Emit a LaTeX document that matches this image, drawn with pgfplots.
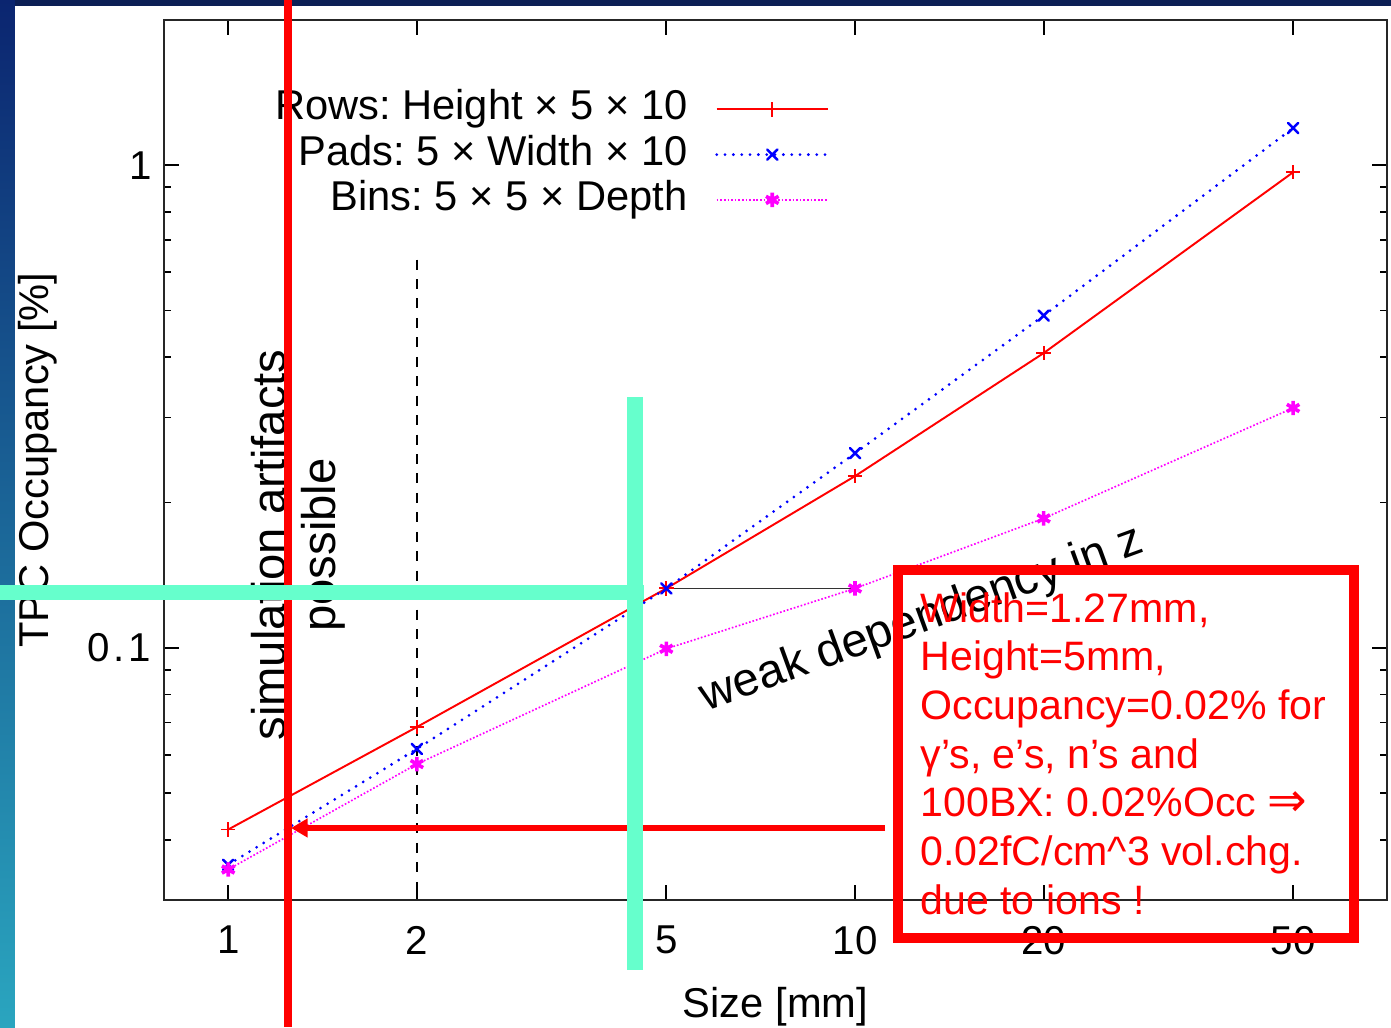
\documentclass[border=0pt]{standalone}
\usepackage{pgfplots}
\pgfplotsset{compat=1.18}
\usepackage{fontspec}
\setmainfont{Liberation Sans}
\newfontfamily\djv{DejaVu Sans}
\usetikzlibrary{arrows.meta}
\frenchspacing
\definecolor{navytop}{HTML}{0C1F55}
\definecolor{stripA}{HTML}{0B2570}
\definecolor{stripB}{HTML}{0836A0}
\definecolor{stripC}{HTML}{2AA5BF}
\definecolor{aqua}{RGB}{102,255,204}
\definecolor{mag}{RGB}{255,0,255}
\definecolor{pureblue}{RGB}{0,0,255}
\definecolor{purered}{RGB}{255,0,0}
\begin{document}
\begin{tikzpicture}
\begin{scope}[x=0.36pt,y=-0.36pt,shift={(-59.04pt,324pt)}]
  \fill[navytop] (0,0) rectangle (1391,1027);
  \shade[top color=stripA, middle color=stripB, bottom color=stripC] (0,0) rectangle (15,1027);
  \fill[white] (15,6) rectangle (1391,1027);
\end{scope}
\begin{axis}[
  at={(0,0)}, anchor=south west, scale only axis,
  width=440.28pt, height=316.8pt,
  xmode=log, ymode=log,
  xmin=0.79, xmax=70.6, ymin=0.03, ymax=2,
  xtick={1,2,5,10,20,50}, xticklabels={1,2,5,10,20,50}, minor xtick={},
  ytick={0.1,1}, yticklabels={0\kern1.5pt.\kern1.5pt1,1},
  minor ytick={0.04,0.05,0.06,0.07,0.08,0.09,0.2,0.3,0.4,0.5,0.6,0.7,0.8,0.9},
  major tick length=5.4pt, minor tick length=2.6pt,
  tick style={black, line width=0.7pt},
  axis line style={line width=0.75pt, black!85},
  font=\fontsize{15}{18}\selectfont,
  ticklabel style={font=\fontsize{14.5}{17}\selectfont},
  xticklabel style={yshift=-5.8pt}, yticklabel style={xshift=-1pt},
  /pgf/number format/assume math mode=true,
  xlabel={Size [mm]}, ylabel={TPC Occupancy [\%]},
  xlabel style={at={(axis description cs:0.5,-0.121)}, anchor=center},
  ylabel style={at={(axis description cs:-0.103,0.5)}, anchor=center},
  legend plot pos=right, legend cell align=right,
  legend style={at={(axis description cs:0.5445,0.922)}, anchor=north east,
    draw=none, fill=none, inner sep=0pt, row sep=1.8pt, column sep=10pt,
    nodes={inner sep=0pt, text height=11pt, text depth=3.5pt}},
  legend image code/.code={\draw[mark repeat=2,mark phase=2,#1] plot coordinates {(0pt,0pt)(20pt,0pt)(40pt,0pt)};},
]
\draw[black, line width=0.55pt, dash pattern=on 3.6pt off 3.4pt] (axis cs:2,0.6375) -- (axis cs:2,0.03);
\draw[black!80, line width=0.6pt] (axis cs:5,0.1327) -- (axis cs:10,0.1327);
\addplot[purered, line width=0.7pt, mark=+, mark size=2.6pt, mark options={solid}]
  coordinates {(1,0.0420)(2,0.0685)(5,0.1327)(10,0.2268)(20,0.408)(50,0.967)};
\addlegendentry{Rows: Height × 5 × 10}
\addplot[pureblue, line width=1.1pt, line cap=round, dash pattern=on 0pt off 3pt, mark=x, mark size=2.6pt, mark options={solid, line width=0.9pt}]
  coordinates {(1,0.0355)(2,0.0617)(5,0.1327)(10,0.253)(20,0.488)(50,1.194)};
\addlegendentry{Pads: 5 × Width × 10}
\addplot[mag, line width=0.6pt, dash pattern=on 0.6pt off 0.7pt, mark=asterisk, mark size=2.6pt, mark options={solid, line width=1.3pt}]
  coordinates {(1,0.0347)(2,0.0574)(5,0.0995)(10,0.1327)(20,0.1854)(50,0.314)};
\addlegendentry{Bins: 5 × 5 × Depth}
\end{axis}
\begin{scope}[x=0.36pt,y=-0.36pt,shift={(-59.04pt,324pt)}]
  \node[rotate=90, align=center, font=\fontsize{17}{18}\selectfont, inner sep=0pt] at (298,545) {simulation artifacts\\possible};
  \node[rotate=20, font=\fontsize{17}{20}\selectfont, inner sep=0pt] at (922,620) {weak dependency in z};
  \draw[purered, line width=3pt] (288,0) -- (288,1027);
  \draw[aqua, line width=5.4pt] (0,592.5) -- (644,592.5);
  \draw[purered, line width=2.5pt, -{Triangle[length=6pt,width=6.5pt]}] (885,828) -- (291,828);
  \draw[aqua, line width=6.1pt] (635,397) -- (635,970);
  \draw[purered, line width=3.4pt] (898,570) rectangle (1354,938);
  \node[purered, anchor=north west, align=left, inner sep=0pt, font=\fontsize{14.8}{17.5}\selectfont] at (920,592)
    {Width=1.27mm,\\Height=5mm,\\Occupancy=0.02\% for\\γ’s, e’s, n’s and\\100BX: 0.02\%Occ {\djv\fontsize{17}{17.5}\selectfont ⇒}\\0.02fC/cm\textasciicircum3 vol.chg.\\due to ions !};
  \pgfresetboundingbox
  \path[use as bounding box] (0,0) rectangle (1391,1027);
\end{scope}
\end{tikzpicture}
\end{document}
